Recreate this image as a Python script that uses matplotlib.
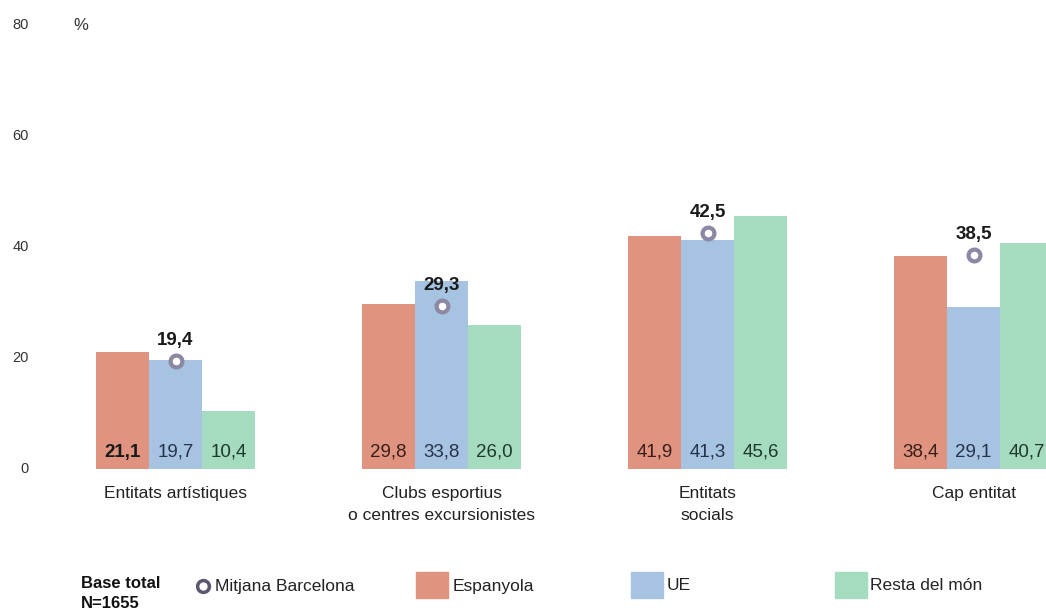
import matplotlib
matplotlib.use("Agg")
import matplotlib.pyplot as plt
import matplotlib.transforms as mtransforms
from matplotlib.patches import Rectangle
from matplotlib.lines import Line2D

plt.rcParams['font.family'] = ['Liberation Sans', 'DejaVu Sans']

categories = ["Entitats artístiques", "Clubs esportius\no centres excursionistes",
              "Entitats\nsocials", "Cap entitat"]
espanyola = [21.1, 29.8, 41.9, 38.4]
ue = [19.7, 33.8, 41.3, 29.1]
resta = [10.4, 26.0, 45.6, 40.7]
mitjana = [19.4, 29.3, 42.5, 38.5]
series_names = ["Espanyola", "UE", "Resta del món"]
colors = ["#e0937f", "#a6c4e2", "#a5dbbf"]
text_colors = ["#3a1e1a", "#26324a", "#1e3a2a"]
yticks = [0, 20, 40, 60, 80]

W, H = 1046, 611
fig = plt.figure(figsize=(W / 100, H / 100), dpi=100)
ax_left, ax_right, ax_top, ax_bot = 40, 1046, 25, 469
ax = fig.add_axes([ax_left / W, 1 - ax_bot / H, (ax_right - ax_left) / W, (ax_bot - ax_top) / H])

px_per_unit = 266.0
x0 = (ax_left - 175.5) / px_per_unit
x1 = (ax_right - 175.5) / px_per_unit
ax.set_xlim(x0, x1)
ax.set_ylim(0, 80)

bw = 0.2
offsets = [-bw, 0, bw]
for s, (vals, col, tcol) in enumerate(zip([espanyola, ue, resta], colors, text_colors)):
    for i, v in enumerate(vals):
        xc = i + offsets[s]
        ax.bar(xc, v, width=bw, color=col, edgecolor='none')
        bold = (s == 0 and i == 0)
        ax.text(xc, 3.0, f"{v:.1f}".replace('.', ','), ha='center', va='center',
                fontsize=13.5, color=tcol if not bold else '#1a1a1a',
                fontweight='bold' if bold else 'normal')

for i, m in enumerate(mitjana):
    ax.plot(i, m, marker='o', markersize=8.5, markerfacecolor='white',
            markeredgecolor='#8c87a3', markeredgewidth=3, zorder=5)
    ax.text(i, m + 3.7, f"{m:.1f}".replace('.', ','), ha='center', va='center',
            fontsize=13.5, fontweight='bold', color='#1a1a1a')

ax.set_xticks(range(len(categories)))
ax.set_xticklabels(categories, fontsize=12.5, color='#222222', linespacing=1.6)
ax.tick_params(axis='x', length=0, pad=12)
ax.set_yticks(yticks)
ax.set_yticklabels([])
ax.tick_params(axis='y', length=0)
for sp in ax.spines.values():
    sp.set_visible(False)

trans = mtransforms.blended_transform_factory(fig.transFigure, ax.transData)
for t in yticks:
    ax.text(29 / W, t, str(t), transform=trans, ha='right', va='center',
            fontsize=10.5, color='#333333', clip_on=False)

fig.text(81 / W, 1 - 25 / H, "%", ha='center', va='center', fontsize=12, color='#333333')

# Legend
fig.text(81 / W, 1 - 584 / H, "Base total", ha='left', va='center', fontsize=12,
         fontweight='bold', color='#111111')
fig.text(81 / W, 1 - 603 / H, "N=1655", ha='left', va='center', fontsize=12,
         fontweight='bold', color='#111111')
fig.add_artist(Line2D([203 / W], [1 - 586 / H], marker='o', markersize=8.5,
                      markerfacecolor='white', markeredgecolor='#5a5870',
                      markeredgewidth=2.5, transform=fig.transFigure))
fig.text(215 / W, 1 - 586 / H, "Mitjana Barcelona", ha='left', va='center',
         fontsize=12.5, color='#222222')
legend_pos = [(416, 453), (631, 667), (835, 870)]
for (px, tx), col, name in zip(legend_pos, colors, series_names):
    fig.add_artist(Rectangle((px / W, 1 - 598 / H), 32 / W, 26 / H, color=col,
                             transform=fig.transFigure))
    fig.text(tx / W, 1 - 586 / H, name, ha='left', va='center', fontsize=12.5, color='#222222')

fig.savefig("out.png", dpi=100)
